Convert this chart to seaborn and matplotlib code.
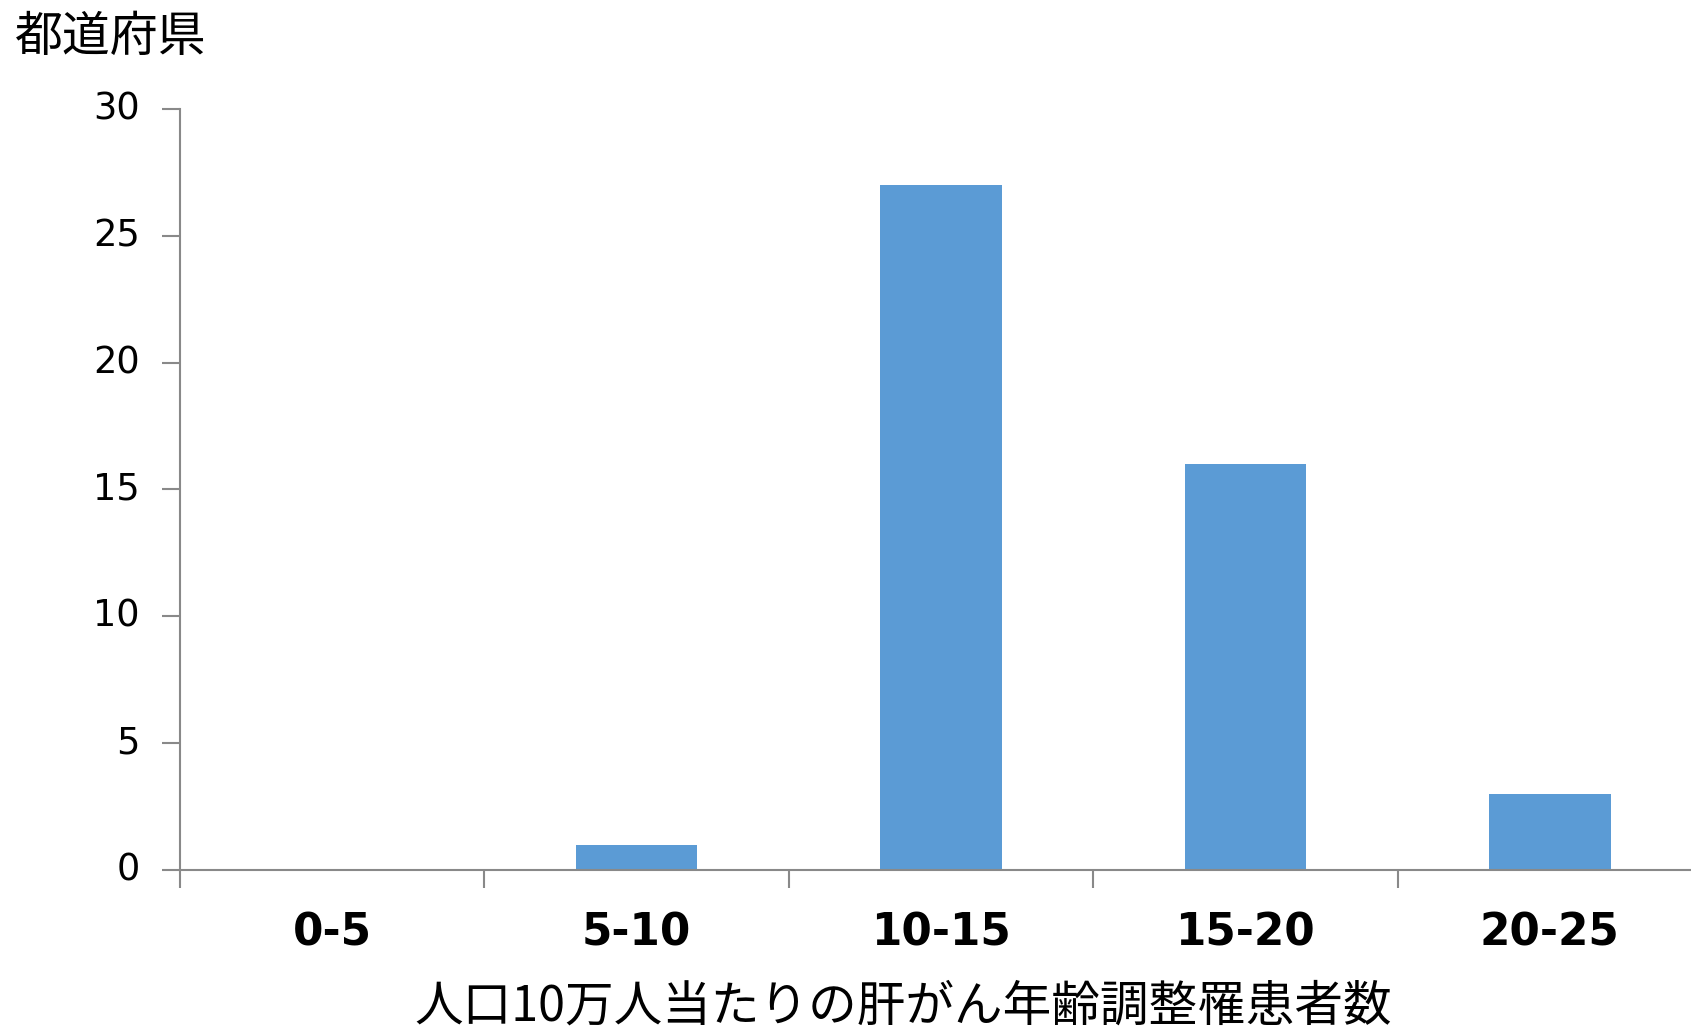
import matplotlib
matplotlib.use("Agg")
import matplotlib.pyplot as plt
import matplotlib.transforms as mtransforms
import seaborn as sns
import pandas as pd

# Histogram of prefectures by age-adjusted liver cancer incidence
bins = ["0-5", "5-10", "10-15", "15-20", "20-25"]
counts = [0, 1, 27, 16, 3]
y_ticks = [0, 5, 10, 15, 20, 25, 30]
y_label = "都道府県"
x_label = "人口10万人当たりの肝がん年齢調整罹患者数"

sns.set_theme(style="white")
plt.rcParams["font.family"] = ["DejaVu Sans", "Noto Sans CJK JP"]

BAR = "#5B9BD5"
AXIS = "#898989"

df = pd.DataFrame({"bin": bins, "count": counts})

fig = plt.figure(figsize=(16.91, 10.35), dpi=100)
ax = fig.add_axes([180 / 1691, 165 / 1035, 1522 / 1691, 761 / 1035])

sns.barplot(data=df, x="bin", y="count", order=bins, color=BAR,
            width=0.4, saturation=1, ax=ax, edgecolor="none")

ax.set_xlim(-0.5, len(bins) - 0.5)
ax.set_ylim(0, 30)
ax.set_yticks(y_ticks)
ax.set_yticklabels([str(v) for v in y_ticks], fontsize=26.5, color="black")

# category boundaries carry the tick marks, labels sit at the centres
ax.set_xticks([i - 0.5 for i in range(len(bins) + 1)])
ax.set_xticklabels([])
ax.set_xticks(range(len(bins)), minor=True)
ax.set_xticklabels(bins, minor=True, fontsize=31.5, fontweight="bold",
                   color="black")
ax.tick_params(axis="x", which="major", length=13, width=1.5, color=AXIS,
               direction="out", bottom=True)
ax.tick_params(axis="x", which="minor", length=0, pad=30)
ax.tick_params(axis="y", length=13, width=1.5, color=AXIS, pad=16,
               direction="out", left=True)

# nudge the value labels slightly upward
lift = mtransforms.ScaledTranslation(0, 4 / 100, fig.dpi_scale_trans)
for lbl in ax.get_yticklabels():
    lbl.set_transform(lbl.get_transform() + lift)

for side in ("top", "right"):
    ax.spines[side].set_visible(False)
for side in ("left", "bottom"):
    ax.spines[side].set_color(AXIS)
    ax.spines[side].set_linewidth(1.5)

ax.set_xlabel("")
ax.set_ylabel("")
ax.grid(False)

fig.text(15 / 1691, 1 - 37 / 1035, y_label, fontsize=34.5, color="black",
         family=["Noto Sans CJK JP"], ha="left", va="center")
fig.text(903 / 1691, 3 / 1035, x_label, fontsize=35, color="black",
         family=["Noto Sans CJK JP"], ha="center", va="bottom")

fig.savefig("out.png", dpi=100, facecolor="white")
